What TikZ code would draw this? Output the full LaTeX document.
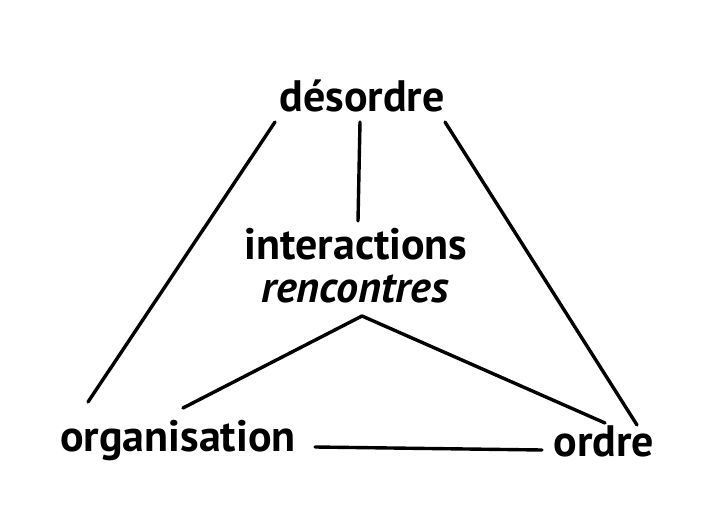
\documentclass[tikz,border=0pt]{standalone}
\usepackage{fontspec}
\setmainfont{PT Sans}
\usetikzlibrary{calc}

\tikzset{
  word/.style={anchor=base, inner sep=0pt, font=\fontsize{22}{26}\selectfont\bfseries},
  link/.style={line width=1.7pt, line cap=round}
}

\begin{document}
\begin{tikzpicture}[x=0.5pt, y=-0.5pt]
\useasboundingbox (0,0) rectangle (706,518);

\path (362,112) node[word] (des) {désordre};
\path (356,259) node[word] (inter) {interactions};
\path (355,302) node[word] (renc) {\itshape rencontres};
\path (178,451) node[word] (org) {organisation};
\path (604,456) node[word] (ord) {ordre};

\draw[link] ($(des.base)+(-87,10)$) -- ($(org.base)+(-90,-49)$);
\draw[link] ($(des.base)+(-2,10)$) -- ($(inter.base)+(2,-38)$);
\draw[link] ($(des.base)+(83,10)$) -- ($(ord.base)+(33,-31)$);
\draw[link] ($(renc.base)+(7,14)$) -- ($(org.base)+(5,-43)$);
\draw[link] ($(renc.base)+(7,14)$) -- ($(ord.base)+(1,-33)$);
\draw[link] ($(org.base)+(137,-4)$) -- ($(ord.base)+(-62,-6)$);

\end{tikzpicture}
\end{document}
